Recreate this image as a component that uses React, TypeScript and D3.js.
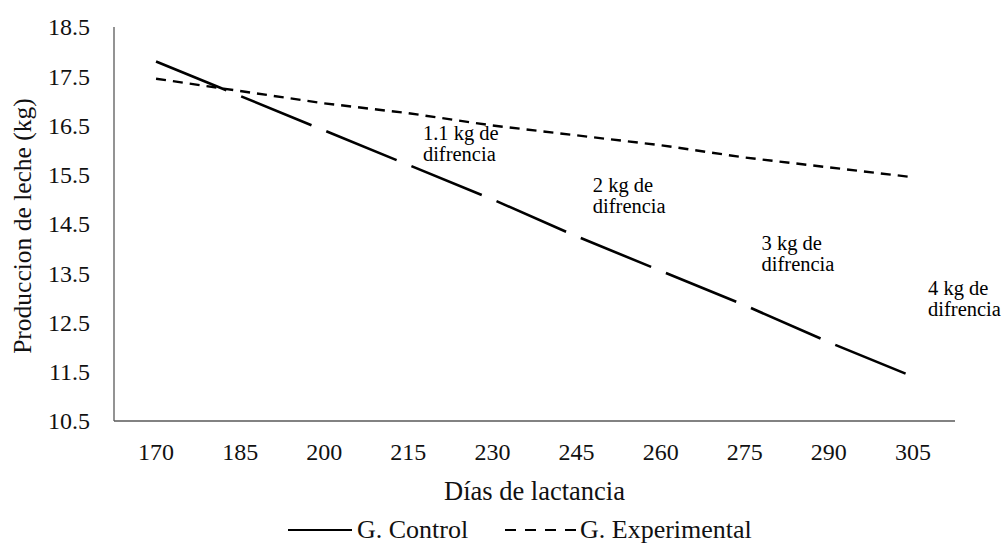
import * as d3 from "d3";
import { useEffect, useRef } from "react";

const days = [170, 185, 200, 215, 230, 245, 260, 275, 290, 305];
const controlValues = [17.8, 17.1, 16.4, 15.7, 15.0, 14.25, 13.55, 12.85, 12.1, 11.4];
const experimentalValues = [17.45, 17.2, 16.95, 16.75, 16.5, 16.3, 16.1, 15.85, 15.65, 15.45];
const yTicks = [10.5, 11.5, 12.5, 13.5, 14.5, 15.5, 16.5, 17.5, 18.5];

const annotationLines = [
    ["1.1 kg de", "difrencia"],
    ["2 kg de", "difrencia"],
    ["3 kg de", "difrencia"],
    ["4 kg de", "difrencia"],
];
const annotationDays = [217.6, 247.9, 278, 307.7];
const annotationValues = [16.2, 15.15, 13.97, 13.06];

const FONT = "Liberation Serif, Tinos, Times New Roman, Times, DejaVu Serif, serif";

function App() {
    const svgRef = useRef(null);

    useEffect(() => {
        const svg = d3.select(svgRef.current);
        svg.selectAll("*").remove();
        svg.attr("font-family", FONT);

        const width = 1005;
        const height = 543;
        const margin = { top: 27, right: 50, bottom: 122, left: 114 };

        const x = d3
            .scaleBand()
            .domain(days.map(String))
            .range([margin.left, width - margin.right])
            .padding(0);

        const xc = (d) => x(String(d)) + x.bandwidth() / 2;

        // linear version of the same axis, for placing the notes
        const xDay = d3
            .scaleLinear()
            .domain([days[0], days[days.length - 1]])
            .range([xc(days[0]), xc(days[days.length - 1])]);

        const y = d3
            .scaleLinear()
            .domain([10.5, 18.5])
            .range([height - margin.bottom, margin.top]);

        // axes
        const axisColor = "#595959";
        svg.append("line")
            .attr("x1", margin.left).attr("x2", margin.left)
            .attr("y1", y(18.5)).attr("y2", y(10.5))
            .attr("stroke", axisColor).attr("stroke-width", 1.3);
        svg.append("line")
            .attr("x1", margin.left).attr("x2", width - margin.right)
            .attr("y1", y(10.5)).attr("y2", y(10.5))
            .attr("stroke", axisColor).attr("stroke-width", 1.3);

        // y tick labels
        svg.append("g")
            .selectAll("text")
            .data(yTicks)
            .enter()
            .append("text")
            .attr("x", 90)
            .attr("y", d => y(d))
            .attr("dy", "0.35em")
            .attr("text-anchor", "end")
            .attr("font-size", 24)
            .attr("fill", "#111")
            .text(d => d.toFixed(1));

        // x tick labels
        svg.append("g")
            .selectAll("text")
            .data(days)
            .enter()
            .append("text")
            .attr("x", d => xc(d))
            .attr("y", 460)
            .attr("text-anchor", "middle")
            .attr("font-size", 24)
            .attr("fill", "#111")
            .text(d => d);

        // x label
        svg.append("text")
            .attr("x", (margin.left + width - margin.right) / 2)
            .attr("y", 500)
            .attr("text-anchor", "middle")
            .attr("font-size", 26.5)
            .attr("fill", "#111")
            .text("Días de lactancia");

        // y label
        svg.append("text")
            .attr("transform", "rotate(-90)")
            .attr("x", -226)
            .attr("y", 31)
            .attr("text-anchor", "middle")
            .attr("font-size", 25.5)
            .attr("fill", "#111")
            .text("Produccion de leche (kg)");

        // lines
        const line = d3.line()
            .x((d, i) => xc(days[i]))
            .y(d => y(d));

        svg.append("path")
            .attr("d", line(controlValues))
            .attr("fill", "none")
            .attr("stroke", "#000")
            .attr("stroke-width", 2.6)
            .attr("stroke-dasharray", "76,16");

        svg.append("path")
            .attr("d", line(experimentalValues))
            .attr("fill", "none")
            .attr("stroke", "#000")
            .attr("stroke-width", 2.4)
            .attr("stroke-dasharray", "10,7");

        // notes
        annotationLines.forEach((lines, i) => {
            const t = svg.append("text")
                .attr("x", xDay(annotationDays[i]))
                .attr("y", y(annotationValues[i]))
                .attr("font-size", 20.5)
                .attr("fill", "#000");
            lines.forEach((l, j) => {
                t.append("tspan")
                    .attr("x", xDay(annotationDays[i]))
                    .attr("dy", j === 0 ? 0 : 21)
                    .text(l);
            });
        });

        // legend
        const lg = svg.append("g");
        lg.append("line")
            .attr("x1", 288).attr("x2", 352)
            .attr("y1", 530).attr("y2", 530)
            .attr("stroke", "#000").attr("stroke-width", 2);
        lg.append("text")
            .attr("x", 357).attr("y", 538)
            .attr("font-size", 26)
            .attr("fill", "#111")
            .text("G. Control");
        lg.append("line")
            .attr("x1", 505).attr("x2", 576)
            .attr("y1", 530).attr("y2", 530)
            .attr("stroke", "#000").attr("stroke-width", 2)
            .attr("stroke-dasharray", "11,9");
        lg.append("text")
            .attr("x", 580).attr("y", 538)
            .attr("font-size", 26)
            .attr("fill", "#111")
            .text("G. Experimental");
    }, []);

    return (
        <svg
            ref={svgRef}
            width={1005}
            height={543}
            style={{ position: "absolute", left: 0, top: 0, background: "#fff" }}
        />
    );
}

export default App;
